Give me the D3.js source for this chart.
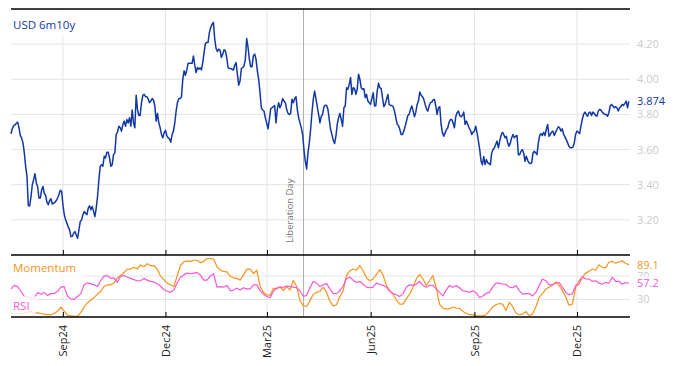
<!DOCTYPE html>
<html>
<head>
<meta charset="utf-8">
<style>
body { margin: 0; background: #fff; }
svg { display: block; font-family: "Open Sans", sans-serif; }
</style>
</head>
<body>
<div id="chart"></div>
<script src="https://cdn.jsdelivr.net/npm/d3@7"></script>
<script>
// data
var startDate = new Date(2024, 6, 17);
var endDate = new Date(2026, 0, 16);
var tickDates = ["2024-09-01", "2024-12-01", "2025-03-01", "2025-06-01", "2025-09-01", "2025-12-01"];
var rateTicks = [3.2, 3.4, 3.6, 3.8, 4.0, 4.2];
var oscTicks = [30, 70];
var eventDate = "2025-04-02";
var eventLabel = "Liberation Day";

var rateValues = [
  3.69,3.72,3.735,3.74,3.75,3.756,3.724,3.68,3.665,3.638,
  3.581,3.505,3.448,3.28,3.28,3.33,3.40,3.429,3.463,3.41,
  3.39,3.324,3.324,3.37,3.39,3.35,3.34,3.30,3.286,3.31,
  3.32,3.29,3.295,3.30,3.31,3.324,3.343,3.368,3.362,3.286,
  3.23,3.20,3.18,3.16,3.143,3.105,3.105,3.124,3.133,3.114,
  3.095,3.143,3.19,3.2,3.229,3.248,3.238,3.229,3.267,3.28,
  3.257,3.276,3.248,3.219,3.267,3.333,3.429,3.505,3.514,3.505,
  3.562,3.552,3.585,3.585,3.552,3.505,3.514,3.571,3.581,3.686,
  3.699,3.733,3.724,3.705,3.743,3.762,3.733,3.771,3.752,3.781,
  3.733,3.825,3.752,3.724,3.909,3.829,3.794,3.794,3.867,3.909,
  3.914,3.901,3.901,3.89,3.867,3.876,3.89,3.882,3.848,3.762,
  3.806,3.752,3.724,3.686,3.667,3.695,3.71,3.68,3.667,3.661,
  3.642,3.686,3.705,3.752,3.819,3.867,3.89,3.89,3.899,4.0,
  4.048,4.023,4.053,4.091,4.091,4.091,4.091,4.133,4.08,4.038,
  4.067,4.057,4.065,4.053,4.095,4.152,4.204,4.21,4.21,4.267,
  4.295,4.314,4.324,4.229,4.175,4.158,4.171,4.166,4.124,4.143,
  4.168,4.162,4.124,4.067,4.061,4.061,4.057,4.053,4.08,4.095,
  4.029,3.966,3.99,4.061,4.067,4.076,4.114,4.232,4.181,4.114,
  4.072,4.072,4.133,4.143,4.114,4.048,4.0,3.924,3.838,3.825,
  3.819,3.781,3.752,3.718,3.771,3.832,3.838,3.844,3.851,3.752,
  3.829,3.867,3.838,3.857,3.89,3.876,3.867,3.829,3.806,3.8,
  3.806,3.886,3.867,3.89,3.901,3.829,3.781,3.752,3.724,3.686,
  3.6,3.533,3.49,3.581,3.638,3.714,3.81,3.886,3.933,3.89,
  3.844,3.8,3.752,
  3.79,3.8,3.844,3.853,3.851,3.829,3.771,3.714,3.686,3.653,
  3.634,3.676,3.743,3.781,3.806,3.771,3.733,3.838,3.848,3.952,
  3.943,3.971,4.01,3.914,3.952,3.947,3.914,3.943,4.029,4.0,
  3.952,3.943,3.947,3.895,3.914,3.876,3.867,3.857,3.89,3.924,
  3.848,3.851,3.933,3.977,3.952,3.947,3.895,3.844,3.857,3.886,
  3.914,3.857,3.851,3.851,3.844,3.819,3.781,3.743,3.737,3.714,
  3.686,3.686,3.705,3.733,3.762,3.794,3.8,3.829,3.848,3.819,
  3.787,3.813,3.857,3.876,3.928,3.909,3.901,3.886,3.857,3.832,
  3.819,3.848,3.867,3.87,3.882,3.886,3.848,3.8,3.838,3.844,
  3.743,3.695,3.676,3.695,3.714,3.724,3.756,3.771,3.771,3.752,
  3.724,3.787,3.81,3.819,3.794,3.787,3.794,3.813,3.743,3.762,
  3.743,3.724,3.71,3.686,3.699,3.705,
  3.733,3.695,3.648,3.6,3.533,3.514,3.56,3.515,3.543,3.525,
  3.52,3.514,3.581,3.6,3.61,3.629,3.648,3.61,3.648,3.68,
  3.699,3.686,3.667,3.676,3.638,3.619,3.638,3.667,3.686,3.667,
  3.676,3.68,3.571,3.571,3.59,3.6,3.581,3.533,3.562,3.539,
  3.524,3.52,3.524,3.581,3.59,3.581,3.571,3.638,3.68,3.691,
  3.68,3.699,3.68,3.714,3.743,3.676,3.686,3.699,3.705,3.68,
  3.699,3.714,3.73,3.724,3.705,3.718,3.686,3.672,3.657,3.638,
  3.619,3.61,3.61,3.615,3.638,3.686,3.705,3.699,3.691,3.733,
  3.771,3.8,3.813,3.8,3.79,3.81,3.813,3.794,3.813,3.806,
  3.794,3.79,3.819,3.829,3.825,3.813,3.806,3.8,3.8,3.79,
  3.81,3.848,3.857,3.848,3.838,3.844,3.838,3.819,3.838,3.844,
  3.857,3.851,3.863,3.876,3.838,3.874
];

var momentumValues = [
  6,6,6,6,7,8,10,7,7,6, 5,4,4,6,10,17,10,3,2,1,
  1,8,17,24,29,33,39,44,52,55, 55,58,67,71,76,82,82,85,82,89,
  86,91,88,88,82,70,64,58,55,52, 70,88,94,96,95,97,97,93,95,100,
  100,99,86,80,78,77,70,67,66,63, 72,82,82,74,80,52,42,38,37,49,
  48,52,45,52,46,63,52,28,19,18, 28,39,42,
  44,51,42,27,19,21,35,45,71,79, 82,80,88,79,67,62,65,73,81,72,
  54,45,39,29,22,22,31,39,51,65, 73,65,54,62,71,50,22,15,14,14,
  17,15,15,10,6,4,4,2,2,2, 4,10,17,21,23,22,11,25,18,7,
  4,5,9,2,5,17,34,40,48,51, 54,60,54,45,34,20,22,51,62,68,
  75,78,82,80,89,85,84,94,95,92, 94,96,92,89.1
];

var rsiValues = [
  48,54,52,44,35,35,31,32,42,39, 42,37,40,40,44,51,52,36,31,30,
  35,40,55,58,57,55,52,62,70,71, 66,67,59,70,71,68,66,64,62,62,
  66,63,61,60,57,53,47,44,42,46, 58,68,72,75,74,75,76,72,63,63,
  70,74,51,52,51,54,45,46,49,46, 50,48,48,55,55,45,39,35,33,44,
  50,50,51,53,52,51,50,45,35,37, 50,61,58,
  52,55,57,48,40,40,45,53,66,68, 63,59,61,56,51,50,51,58,56,54,
  51,44,40,38,35,40,51,55,54,56, 61,54,51,54,54,48,42,36,46,54,
  51,54,50,45,44,42,45,42,33,36, 40,42,51,58,58,56,56,51,50,54,
  45,39,40,40,36,42,54,65,62,55, 55,58,59,51,42,38,40,54,56,69,
  65,65,61,62,58,56,59,58,68,61, 61,56,59,57.2
];

// colours
var blue = "#1238a6", orange = "#f7941d", pink = "#f956d8";
var gridColor = "#e4e4e4", axisLabelColor = "#cccccc";

// layout
var W = 674, H = 366;
var left = 11, right = 630;
var mainTop = 9, mainBottom = 255, oscBottom = 317;

var svg = d3.select("#chart").append("svg")
    .attr("width", W)
    .attr("height", H);

var parse = d3.timeParse("%Y-%m-%d");
var ticks = tickDates.map(parse);

var x = d3.scaleTime()
    .domain([new Date(2024, 6, 17), new Date(2026, 0, 17)])
    .range([left, right]);

var yRate = d3.scaleLinear().domain([3.0, 4.4]).range([mainBottom, mainTop]);
var yOsc = d3.scaleLinear().domain([0, 106]).range([oscBottom, mainBottom]);

// spread the samples evenly over the date span
function withDates(values) {
    var t = d3.scaleLinear().domain([0, values.length - 1]).range([+startDate, +endDate]);
    return values.map(function (v, i) { return { date: new Date(t(i)), value: v }; });
}
var rate = withDates(rateValues);
var momentum = withDates(momentumValues);
var rsi = withDates(rsiValues);

// horizontal grid
svg.append("g").selectAll("line").data(rateTicks).join("line")
    .attr("x1", left).attr("x2", right)
    .attr("y1", function (d) { return yRate(d); })
    .attr("y2", function (d) { return yRate(d); })
    .attr("stroke", gridColor);
svg.append("g").selectAll("line").data(oscTicks).join("line")
    .attr("x1", left).attr("x2", right)
    .attr("y1", function (d) { return yOsc(d); })
    .attr("y2", function (d) { return yOsc(d); })
    .attr("stroke", gridColor);

// vertical grid
svg.append("g").selectAll("line").data(ticks).join("line")
    .attr("x1", function (d) { return x(d); })
    .attr("x2", function (d) { return x(d); })
    .attr("y1", mainTop).attr("y2", oscBottom)
    .attr("stroke", gridColor);

// event marker
var ex = Math.round(x(parse(eventDate))) + 0.5;
svg.append("line")
    .attr("x1", ex).attr("x2", ex)
    .attr("y1", mainTop).attr("y2", oscBottom)
    .attr("stroke", "#b0b0b0");
svg.append("text")
    .attr("transform", "translate(" + (ex - 11) + ",243) rotate(-90)")
    .attr("font-size", 9.5)
    .attr("fill", "#777")
    .text(eventLabel);

// series
var lineRate = d3.line()
    .x(function (d) { return x(d.date); })
    .y(function (d) { return yRate(d.value); });
var lineOsc = d3.line()
    .x(function (d) { return x(d.date); })
    .y(function (d) { return yOsc(d.value); });

svg.append("path").datum(momentum)
    .attr("d", lineOsc)
    .attr("fill", "none").attr("stroke", orange)
    .attr("stroke-width", 1.2).attr("stroke-linejoin", "round");
svg.append("path").datum(rsi)
    .attr("d", lineOsc)
    .attr("fill", "none").attr("stroke", pink)
    .attr("stroke-width", 1.2).attr("stroke-linejoin", "round");
svg.append("path").datum(rate)
    .attr("d", lineRate)
    .attr("fill", "none").attr("stroke", blue)
    .attr("stroke-width", 1.5).attr("stroke-linejoin", "round");

// panel titles with a white backing
function title(txt, color, cy, boxY, boxH) {
    var g = svg.append("g");
    var bg = g.append("rect").attr("fill", "#fff").attr("fill-opacity", 0.8);
    var t = g.append("text")
        .attr("x", 13).attr("y", cy).attr("dy", "0.35em")
        .attr("font-size", 11.5).attr("fill", color)
        .text(txt);
    var w = t.node().getComputedTextLength();
    bg.attr("x", left).attr("y", boxY).attr("width", w + 8).attr("height", boxH);
}
title("USD 6m10y", blue, 25, mainTop + 1, 26);
title("Momentum", orange, 268, mainBottom + 1, 24);
title("RSI", pink, 306, 296, 20);

// panel borders
[mainTop, mainBottom, oscBottom].forEach(function (yy) {
    svg.append("line")
        .attr("x1", left).attr("x2", right)
        .attr("y1", yy).attr("y2", yy)
        .attr("stroke", "#000").attr("stroke-width", 1.5);
});

// tick marks pointing into the panels
[mainBottom, oscBottom].forEach(function (yy) {
    var g = svg.append("g")
        .attr("transform", "translate(0," + yy + ")")
        .call(d3.axisTop(x).tickValues(ticks).tickSize(5).tickFormat(""));
    g.select(".domain").remove();
    g.selectAll("line").attr("stroke", "#000");
});

// date labels
var xAxis = svg.append("g")
    .attr("transform", "translate(0," + oscBottom + ")")
    .call(d3.axisBottom(x).tickValues(ticks).tickSize(0).tickFormat(d3.timeFormat("%b%y")));
xAxis.select(".domain").remove();
xAxis.attr("font-family", null).attr("font-size", 11);
xAxis.selectAll("text")
    .attr("transform", "rotate(-90)")
    .attr("text-anchor", "end")
    .attr("x", -8).attr("y", 0).attr("dy", "0.35em")
    .attr("fill", "#222");

// right-hand value axes
var rAxis = svg.append("g")
    .attr("transform", "translate(" + right + ",0)")
    .call(d3.axisRight(yRate).tickValues(rateTicks).tickSize(0).tickPadding(7).tickFormat(d3.format(".2f")));
rAxis.select(".domain").remove();
rAxis.attr("font-family", null).attr("font-size", 11);
rAxis.selectAll("text").attr("fill", axisLabelColor);

var oAxis = svg.append("g")
    .attr("transform", "translate(" + right + ",0)")
    .call(d3.axisRight(yOsc).tickValues(oscTicks).tickSize(0).tickPadding(7));
oAxis.select(".domain").remove();
oAxis.attr("font-family", null).attr("font-size", 11);
oAxis.selectAll("text").attr("fill", axisLabelColor);

// last-value labels
function lastLabel(yy, txt, color) {
    var g = svg.append("g");
    var bg = g.append("rect").attr("fill", "#fff");
    var t = g.append("text")
        .attr("x", 637).attr("y", yy).attr("dy", "0.35em")
        .attr("font-size", 11).attr("fill", color)
        .text(txt);
    var w = t.node().getComputedTextLength();
    bg.attr("x", 634).attr("y", yy - 7).attr("width", w + 6).attr("height", 14);
}
lastLabel(yRate(rateValues[rateValues.length - 1]), d3.format(".3f")(rateValues[rateValues.length - 1]), blue);
lastLabel(yOsc(momentumValues[momentumValues.length - 1]), d3.format(".1f")(momentumValues[momentumValues.length - 1]), orange);
lastLabel(yOsc(rsiValues[rsiValues.length - 1]), d3.format(".1f")(rsiValues[rsiValues.length - 1]), pink);
</script>
</body>
</html>
